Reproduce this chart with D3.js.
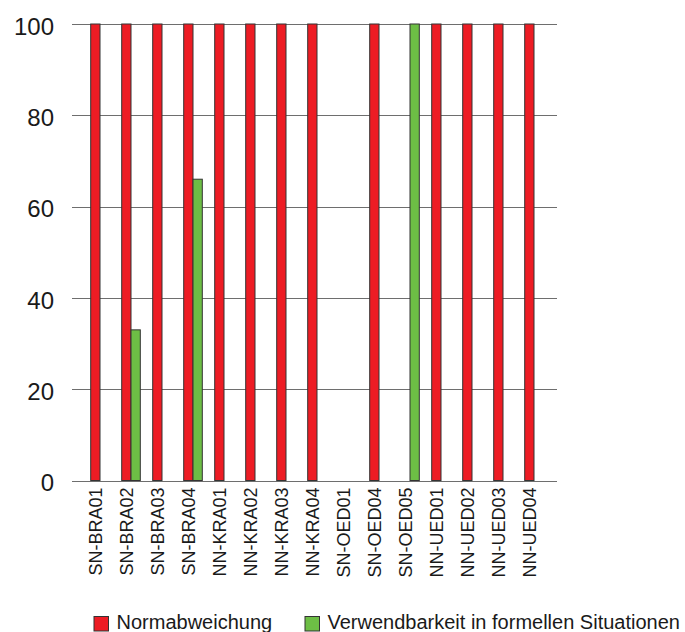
<!DOCTYPE html>
<html>
  <head>
    <meta charset="utf-8">
    <title>Normabweichung</title>
    <script src="https://d3js.org/d3.v7.min.js"></script>
    <style>
      body { margin: 0; background: #fff; }
      svg { display: block; font-family: "Liberation Sans", Arial, sans-serif; }
      .grid line { stroke: #6e6e6e; stroke-width: 1; }
      .bar { stroke: #333; stroke-width: 1; }
      text { fill: #1a1a1a; }
    </style>
  </head>
  <body>
    <svg id="chart" width="685" height="632"></svg>
    <script>
      // data
      var categories = ["SN-BRA01", "SN-BRA02", "SN-BRA03", "SN-BRA04", "NN-KRA01", "NN-KRA02", "NN-KRA03", "NN-KRA04",
        "SN-OED01", "SN-OED04", "SN-OED05", "NN-UED01", "NN-UED02", "NN-UED03", "NN-UED04"];
      var seriesNames = ["Normabweichung", "Verwendbarkeit in formellen Situationen"];
      var normabweichung = [100, 100, 100, 100, 100, 100, 100, 100, 0, 100, 0, 100, 100, 100, 100];
      var verwendbarkeit = [0, 33, 0, 66, 0, 0, 0, 0, 0, 0, 100, 0, 0, 0, 0];
      var yTicks = [0, 20, 40, 60, 80, 100];
      var colours = ["#ed1c24", "#6dbe45"];

      var svg = d3.select("#chart");
      var plot = { left: 72, right: 557, top: 24, bottom: 480.5 };

      var x0 = d3.scaleBand()
        .domain(categories)
        .range([84.5, 549.5])
        .paddingInner(0.4)
        .paddingOuter(0.2);
      var x1 = d3.scaleBand()
        .domain(seriesNames)
        .range([0, x0.bandwidth()]);
      var y = d3.scaleLinear()
        .domain([0, 100])
        .range([plot.bottom, plot.top]);

      // gridlines
      svg.append("g")
        .classed("grid", true)
        .selectAll("line")
          .data(yTicks)
        .enter().append("line")
          .attr("x1", plot.left)
          .attr("x2", plot.right)
          .attr("y1", function(d) { return Math.round(y(d)) + 0.5; })
          .attr("y2", function(d) { return Math.round(y(d)) + 0.5; });

      // y labels
      svg.append("g")
        .selectAll("text")
          .data(yTicks)
        .enter().append("text")
          .attr("x", 54)
          .attr("y", function(d) { return y(d); })
          .attr("dy", "0.45em")
          .attr("text-anchor", "end")
          .style("font-size", "24px")
          .text(function(d) { return d; });

      // bars
      var rows = categories.map(function(c, i) {
        return { cat: c, values: [normabweichung[i], verwendbarkeit[i]] };
      });
      var groups = svg.append("g")
        .selectAll("g")
          .data(rows)
        .enter().append("g")
          .attr("transform", function(d) { return "translate(" + x0(d.cat) + ",0)"; });
      groups.selectAll("rect")
        .data(function(d) {
          return seriesNames.map(function(s, j) { return { s: s, j: j, v: d.values[j] }; })
            .filter(function(e) { return e.v > 0; });
        })
        .enter().append("rect")
          .classed("bar", true)
          .attr("x", function(d) { return x1(d.s); })
          .attr("width", x1.bandwidth())
          .attr("y", function(d) { return y(d.v); })
          .attr("height", function(d) { return y(0) - y(d.v); })
          .style("fill", function(d) { return colours[d.j]; });

      // x labels
      svg.append("g")
        .selectAll("text")
          .data(categories)
        .enter().append("text")
          .attr("transform", function(d) {
            return "translate(" + (x0(d) + x0.bandwidth() / 2 - 4) + "," + (plot.bottom + 7) + ") rotate(-90)";
          })
          .attr("dy", "0.35em")
          .attr("text-anchor", "end")
          .style("font-size", "18px")
          .text(function(d) { return d; });

      // legend
      var legendX = [94, 305];
      var legend = svg.append("g")
        .selectAll("g")
          .data(seriesNames)
        .enter().append("g")
          .attr("transform", function(d, i) { return "translate(" + legendX[i] + ",616.5)"; });
      legend.append("rect")
        .attr("width", 14.5)
        .attr("height", 14.5)
        .style("fill", function(d, i) { return colours[i]; })
        .style("stroke", "#333")
        .style("stroke-width", 1);
      legend.append("text")
        .attr("x", 22.5)
        .attr("y", 12)
        .style("font-size", "20px")
        .text(function(d) { return d; });
    </script>
  </body>
</html>
